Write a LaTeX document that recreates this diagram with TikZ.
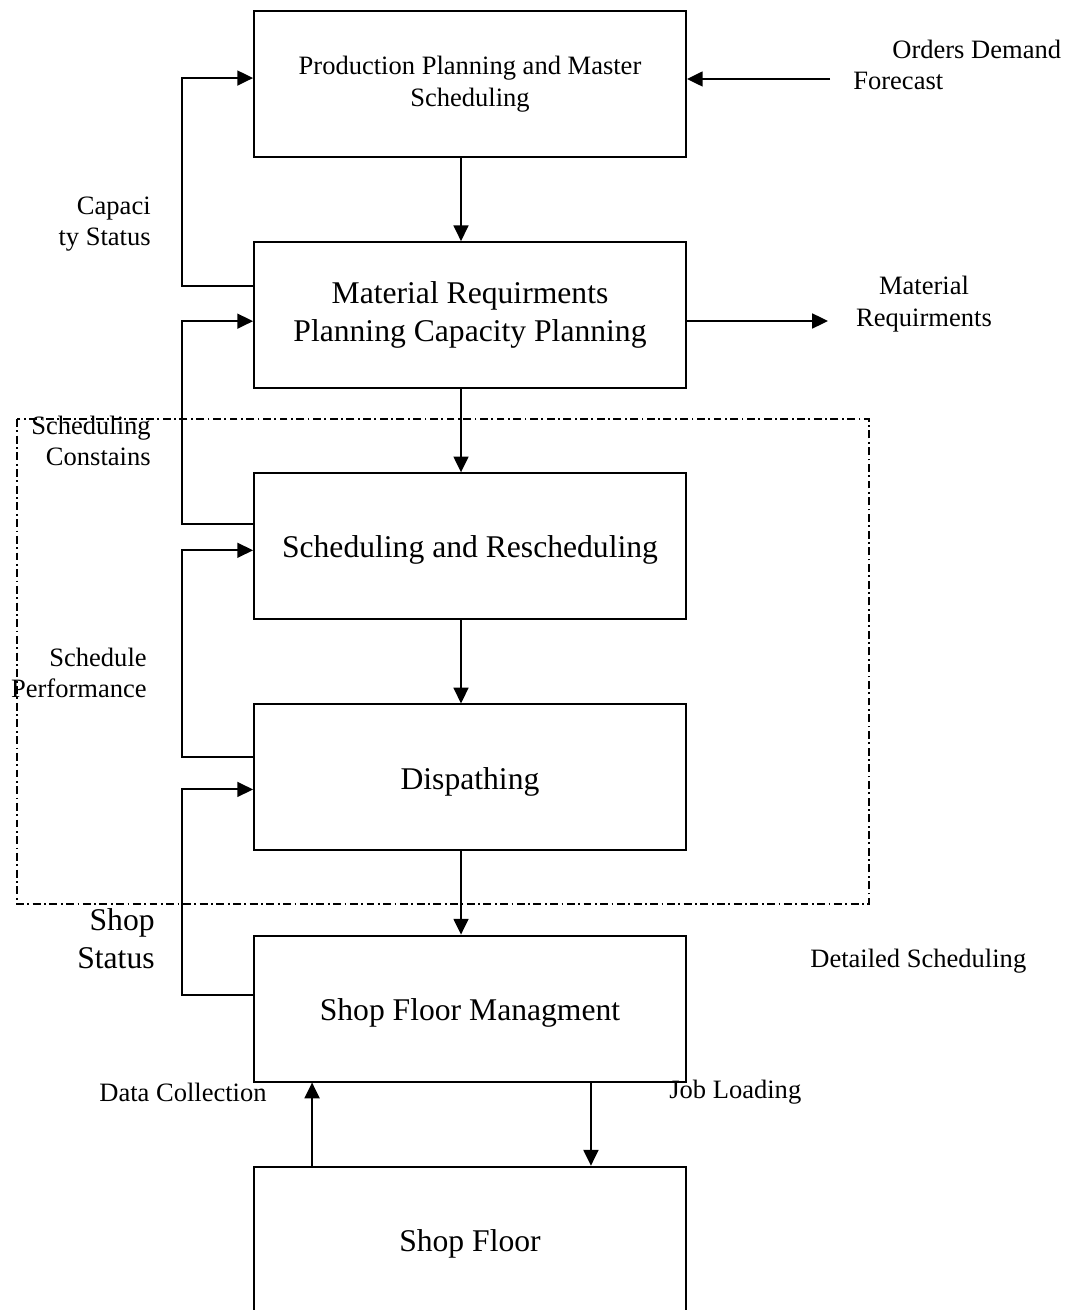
\documentclass[tikz,border=0pt]{standalone}
\usepackage{fontspec}
\setmainfont{Liberation Serif}
\usetikzlibrary{arrows.meta, positioning, calc}

\newcommand{\smalltxt}{\fontsize{15.1}{18.1}\selectfont}
\newcommand{\bigtxt}{\fontsize{18}{21.5}\selectfont}

\begin{document}
\begin{tikzpicture}[
        x=0.02cm, y=-0.02cm,
        node distance=1.665cm,
        every node/.style={font=\smalltxt},
        stage/.style={rectangle, draw, line width=1.1pt, minimum width=8.64cm, minimum height=2.92cm, align=center, font=\bigtxt},
        oneline/.style={text height=0.6cm},
        flow/.style={-{Triangle[length=9pt,width=8.5pt]}, line width=1.1pt},
        note/.style={inner sep=0pt, font=\smalltxt},
        region/.style={line width=0.6pt, dash pattern=on 4.5pt off 2pt on 1pt off 2pt}
    ]
        \clip (0,0) rectangle (1067,1310);

        \node[stage, font=\smalltxt] (ppms) at (470,84) {Production Planning and Master\\Scheduling};
        \node[stage, below=of ppms] (mrp) {Material Requirments\\Planning Capacity Planning};
        \node[stage, oneline, below=of mrp] (sched) {Scheduling and Rescheduling};
        \node[stage, oneline, below=of sched] (disp) {Dispathing};
        \node[stage, oneline, below=of disp] (sfm) {Shop Floor Managment};
        \node[stage, oneline, below=of sfm] (floor) {Shop Floor};

        % detailed scheduling region
        \draw[region] (17,419) rectangle (869,904);

        % labels
        \node[note, align=left, anchor=west] (orders) at (853,65) {\hspace*{0.78cm}Orders Demand\\Forecast};
        \node[note, align=center] (matout) at (924,304) {Material\\Requirments};
        \node[note, align=right, anchor=east] (capstat) at (151,224) {Capaci\\ty Status};
        \node[note, align=right, anchor=east] (constr) at (151,441) {Scheduling\\Constains};
        \node[note, align=right, anchor=east] (perf) at (147,673) {Schedule\\Performance};
        \node[note, font=\bigtxt, align=right, anchor=east] (shopstat) at (155,939) {Shop\\Status};
        \node[note, anchor=west] (detail) at (810,961) {Detailed Scheduling};
        \node[note, anchor=west] (datacol) at (99,1092) {Data Collection};
        \node[note, anchor=west] (jobload) at (669,1092) {Job Loading};

        \coordinate (ordin) at (830,79);
        \coordinate (matend) at (828,321);

        % main flow
        \draw[flow] ([xshift=-0.18cm]ppms.south) -- ([xshift=-0.18cm]mrp.north);
        \draw[flow] ([xshift=-0.18cm]mrp.south) -- ([xshift=-0.18cm]sched.north);
        \draw[flow] ([xshift=-0.18cm]sched.south) -- ([xshift=-0.18cm]disp.north);
        \draw[flow] ([xshift=-0.18cm]disp.south) -- ([xshift=-0.18cm]sfm.north);
        \draw[flow] ([xshift=1.18cm]floor.north west) -- ([xshift=1.18cm]sfm.south west);
        \draw[flow] ([xshift=-1.92cm]sfm.south east) -- ([xshift=-1.92cm]floor.north east);

        % in and out
        \draw[flow] (ordin) -- (ppms.east |- ordin);
        \draw[flow] (mrp.east |- matend) -- (matend);

        % feedback
        \draw[flow] ([yshift=-0.9cm]mrp.north west) -- ++(-1.42cm,0) |- ([yshift=-1.36cm]ppms.north west);
        \draw[flow] ([yshift=-1.04cm]sched.north west) -- ++(-1.42cm,0) |- ([yshift=-1.6cm]mrp.north west);
        \draw[flow] ([yshift=-1.08cm]disp.north west) -- ++(-1.42cm,0) |- ([yshift=-1.56cm]sched.north west);
        \draw[flow] ([yshift=-1.2cm]sfm.north west) -- ++(-1.42cm,0) |- ([yshift=-1.72cm]disp.north west);
\end{tikzpicture}
\end{document}
